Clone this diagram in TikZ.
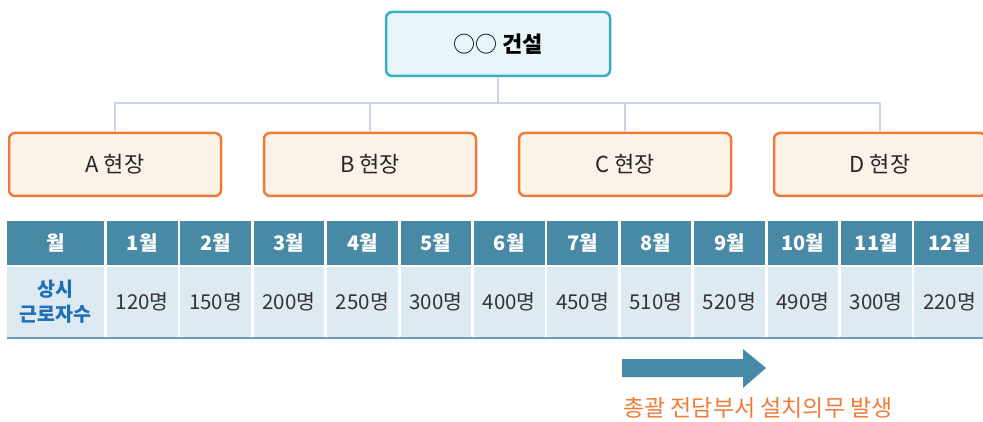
\documentclass[tikz,border=0pt]{standalone}
\usepackage{fontspec}
\setmainfont{Noto Sans CJK KR}
\definecolor{topline}{HTML}{36AFC5}
\definecolor{topfill}{HTML}{E8F6FA}
\definecolor{siteline}{HTML}{EE7A3A}
\definecolor{sitefill}{HTML}{FBF3E8}
\definecolor{conn}{HTML}{C9D3E3}
\definecolor{headfill}{HTML}{4889A6}
\definecolor{valfill}{HTML}{DDEAF2}
\definecolor{bottomline}{HTML}{6AA0BC}
\definecolor{labelblue}{HTML}{1F6FB6}
\definecolor{orangetext}{HTML}{F07A3A}
\definecolor{valtext}{HTML}{333333}
\tikzset{
  topbox/.style={draw=topline, fill=topfill, line width=2.5pt, rounded corners=6pt,
    minimum width=224pt, minimum height=64pt, inner sep=0pt, font=\fontsize{22}{24}\selectfont},
  sitebox/.style={draw=siteline, fill=sitefill, line width=2.5pt, rounded corners=6pt,
    minimum width=212pt, minimum height=63pt, inner sep=0pt, font=\fontsize{22}{24}\selectfont\color{black!85}},
  connector/.style={draw=conn, line width=2pt},
  headcell/.style={fill=headfill, minimum width=70.5pt, minimum height=44pt, inner sep=0pt,
    text=white, font=\fontsize{20}{22}\selectfont\bfseries},
  valcell/.style={fill=valfill, minimum width=70.5pt, minimum height=70pt, inner sep=0pt,
    text=valtext, font=\fontsize{20.5}{22}\selectfont},
}
\begin{document}
\begin{tikzpicture}[x=1pt, y=-1pt]
\useasboundingbox (0,0) rectangle (983,422);
\begin{scope}
\clip (0,0) rectangle (983,422);
% top box
\node[topbox] (top) at (498,44) {○○ \textbf{건설}};
% site boxes
\node[sitebox] (A) at (115,164.5) {A 현장};
\node[sitebox] (B) at (370,164.5) {B 현장};
\node[sitebox] (C) at (625,164.5) {C 현장};
\node[sitebox] (D) at (880,164.5) {D 현장};
\coordinate (bus) at (498,103);
\draw[connector] (top.south) -- (bus);
\draw[connector] (A.north) |- (bus) -| (D.north);
\draw[connector] (B.north) -- (B.north |- bus);
\draw[connector] (C.north) -- (C.north |- bus);
% table
\node[headcell, minimum width=97pt] (h0) at (55.5,243) {월};
\node[valcell, minimum width=97pt, text=labelblue, align=center,
  font=\fontsize{19.5}{25}\selectfont\bfseries] (v0) at (55.5,302) {상시\\근로자수};
\foreach \m/\v [count=\i from 0] in {1/120,2/150,3/200,4/250,5/300,6/400,7/450,8/510,9/520,10/490,11/300,12/220}{
  \pgfmathsetmacro{\cx}{107+73.4*\i+35.25}
  \node[headcell] (h\m) at (\cx,243) {\m{}월};
  \node[valcell] (v\m) at (\cx,302) {\v{}명};
}
\draw[draw=bottomline, line width=2pt] (v0.south west) ++(0,1) -- ++(990,0);
% arrow
\fill[headfill] (622,359) -- (743,359) -- (743,349) -- (766,368) -- (743,388) -- (743,377) -- (622,377) -- cycle;
\node[text=orangetext, font=\fontsize{23}{25}\selectfont, inner sep=0pt] (note) at (758,408) {총괄 전담부서 설치의무 발생};
\end{scope}
\end{tikzpicture}
\end{document}
